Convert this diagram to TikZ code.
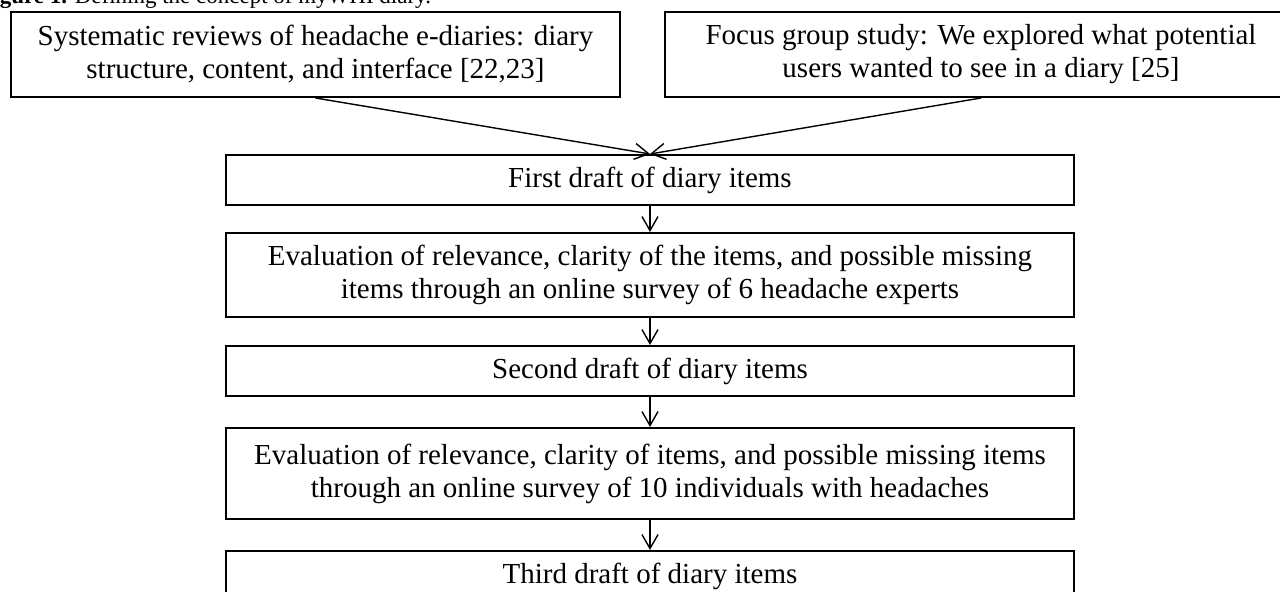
\documentclass[tikz,border=0pt]{standalone}
\usepackage{fontspec}
\setmainfont{Liberation Serif}
\usetikzlibrary{arrows.meta, positioning}

\begin{document}
\begin{tikzpicture}[
        x=1pt, y=1pt,
        node distance=14pt,
        box/.style={rectangle, draw=black, line width=1pt, minimum width=424pt, minimum height=25pt, align=center, inner sep=2pt, font=\fontsize{14.5}{16.5}\selectfont},
        topbox/.style={box, minimum height=42.5pt},
        arrow/.style={line width=0.7pt, -{Straight Barb[length=7pt, width=8pt]}}
    ]
        \useasboundingbox (-325,90) rectangle (315,-206);
        \clip (-325,90) rectangle (315,-206);

        % Caption
        \node (caption) [anchor=base west, inner sep=0pt, font=\fontsize{11.5}{13.5}\selectfont] at (-335.5,88) {\textbf{Figure 1.} Defining the concept of myWHI diary.};

        % Flow steps
        \node (first) [box] at (0,0) {First draft of diary items};
        \node (experts) [box, below=13pt of first, minimum height=42pt] {Evaluation of relevance, clarity of the items, and possible missing\\items through an online survey of 6 headache experts};
        \node (second) [box, below=13.5pt of experts] {Second draft of diary items};
        \node (users) [box, below=15pt of second, minimum height=45.5pt] {Evaluation of relevance, clarity of items, and possible missing items\\through an online survey of 10 individuals with headaches};
        \node (third) [box, below=15pt of users] {Third draft of diary items};

        % Sources
        \node (reviews) [topbox, minimum width=304.5pt, above left=28pt and 14.5pt of first.north] {Systematic reviews of headache e-diaries: diary\\structure, content, and interface [22,23]};
        \node (focus) [topbox, minimum width=316pt, above right=28pt and 7pt of first.north] {Focus group study: We explored what potential\\users wanted to see in a diary [25]};

        % Arrows
        \draw [arrow] (reviews.south) -- (first.north);
        \draw [arrow] (focus.south) -- (first.north);
        \draw [arrow] (first) -- (experts);
        \draw [arrow] (experts) -- (second);
        \draw [arrow] (second) -- (users);
        \draw [arrow] (users) -- (third);
    \end{tikzpicture}
\end{document}
